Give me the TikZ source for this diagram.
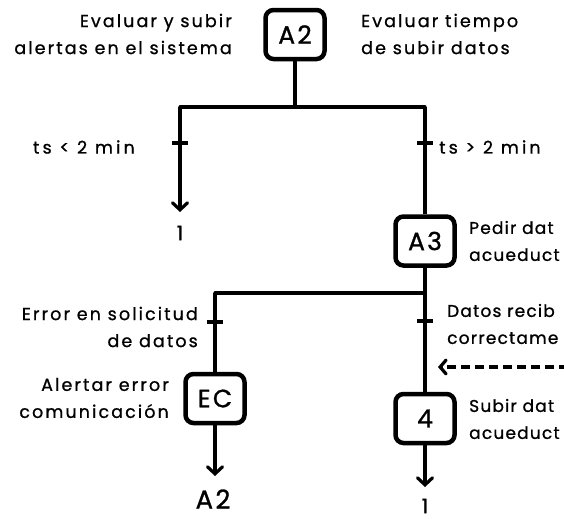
\documentclass[tikz,border=0pt]{standalone}
\usepackage{fontspec}
\setmainfont[LetterSpace=12,FakeBold=0.9]{Poppins}
\newfontfamily\boxfont[LetterSpace=9,FakeBold=1.0]{Poppins}
\newfontfamily\edgefont[LetterSpace=7,FakeBold=0.9]{Poppins}
\newfontfamily\widefont[LetterSpace=18,FakeBold=0.9]{Poppins}
\usetikzlibrary{arrows.meta}
\begin{document}
\begin{tikzpicture}[x=1pt,y=-1pt,
  stepbox/.style={draw, line width=4.5pt, rounded corners=8pt, fill=white,
    minimum width=59pt, minimum height=49pt, inner sep=0pt,
    font=\boxfont\fontsize{25}{28}\selectfont},
  link/.style={line width=3.2pt},
  arr/.style={line width=3.2pt, -{Straight Barb[length=7pt,width=15pt,line width=3.2pt,line cap=round]}},
  tick/.style={line width=4pt},
  lbl/.style={inner sep=0pt, font=\fontsize{17.5}{27}\selectfont},
  edgelbl/.style={inner sep=0pt, font=\edgefont\fontsize{17}{27}\selectfont},
  tslbl/.style={inner sep=0pt, font=\widefont\fontsize{17.5}{27}\selectfont},
  endlbl/.style={inner sep=0pt, font=\boxfont\fontsize{26}{28}\selectfont},
  onelbl/.style={inner sep=0pt, font=\boxfont\fontsize{20}{24}\selectfont}]
\useasboundingbox (0,0) rectangle (564,520);
\clip (0,0) rectangle (564,520);
\fill[white] (0,0) rectangle (564,520);

% boxes
\node[stepbox] (a2) at (295,34.5) {A2};
\node[stepbox] (a3) at (425,241) {A3};
\node[stepbox] (ec) at (215,398.5) {EC};
\node[stepbox] (b4) at (425,418.5) {4};

% first split
\coordinate (j1) at (295,107);
\coordinate (l1) at (180,107);
\coordinate (r1) at (425,107);
\coordinate (l1end) at (180,212);
\draw[link] (a2.south) -- (j1);
\draw[link, line cap=round] (l1) -- (r1);
\draw[arr] (l1) -- (l1end);
\draw[link] (r1) -- (a3.north);
\coordinate (t1a) at (172,143); \coordinate (t1b) at (188,143);
\coordinate (t2a) at (417,143); \coordinate (t2b) at (433,143);
\draw[tick] (t1a) -- (t1b);
\draw[tick] (t2a) -- (t2b);

% second split
\coordinate (j2) at (425,293);
\coordinate (l2) at (215,293);
\draw[link] (a3.south) -- (j2);
\draw[link, line cap=round] (l2) -- (j2);
\draw[link] (l2) -- (ec.north);
\draw[link] (j2) -- (b4.north);
\coordinate (t3a) at (207,322); \coordinate (t3b) at (223,322);
\coordinate (t4a) at (417,321); \coordinate (t4b) at (433,321);
\draw[tick] (t3a) -- (t3b);
\draw[tick] (t4a) -- (t4b);

% outputs
\coordinate (ecend) at (215,476);
\coordinate (b4end) at (425,487);
\draw[arr] (ec.south) -- (ecend);
\draw[arr] (b4.south) -- (b4end);

% dashed incoming arrow
\coordinate (dstart) at (568,367);
\coordinate (dend) at (438,367);
\draw[line width=3.2pt, dash pattern=on 9pt off 5pt,
  -{Straight Barb[length=6pt,width=14pt,line width=3.2pt,line cap=round]}] (dstart) -- (dend);

% texts
\node[lbl, anchor=east, align=right] (t_a2l) at (232,34) {Evaluar y subir\\alertas en el sistema};
\node[lbl, anchor=west, align=left] (t_a2r) at (361,34) {Evaluar tiempo\\de subir datos};
\node[tslbl, anchor=east] (t_lt) at (135,147) {ts < 2 min};
\node[tslbl, anchor=west] (t_gt) at (439,147) {ts > 2 min};
\node[onelbl] (one1) at (180,233) {1};
\node[edgelbl, anchor=west, align=left] (t_a3) at (469,241) {Pedir dat\\acueduct};
\node[lbl, anchor=east, align=right] (t_err) at (198,327) {Error en solicitud\\de datos};
\node[edgelbl, anchor=west, align=left] (t_ok) at (447,324) {Datos recib\\correctame};
\node[lbl, anchor=east, align=right] (t_ec) at (169,398) {Alertar error\\comunicación};
\node[edgelbl, anchor=west, align=left] (t_b4) at (469,419) {Subir dat\\acueduct};
\node[endlbl] (a2back) at (213,499) {A2};
\node[onelbl] (one2) at (425,506) {1};
\end{tikzpicture}
\end{document}
